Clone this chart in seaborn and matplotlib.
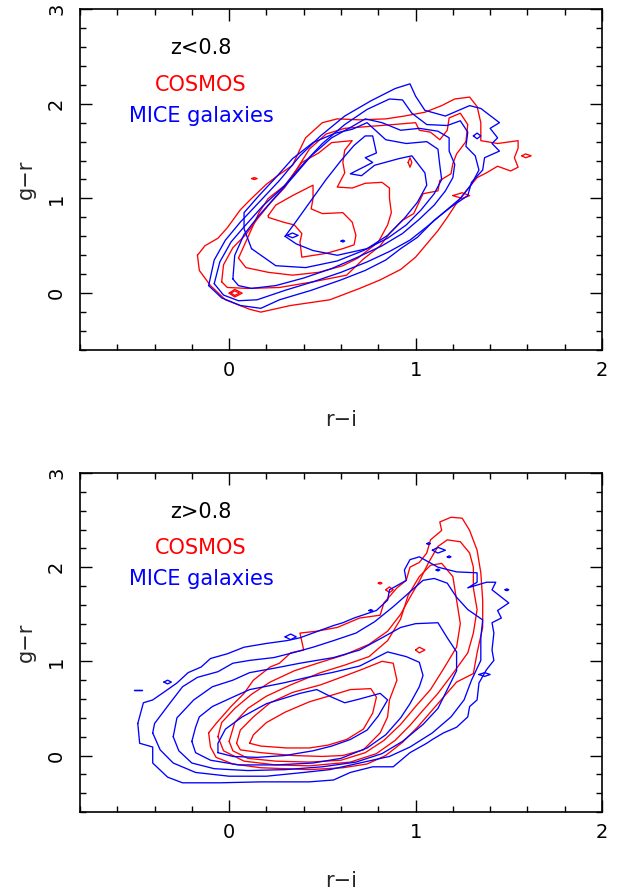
import matplotlib
matplotlib.use("Agg")
import matplotlib.pyplot as plt
from matplotlib.ticker import MultipleLocator, FixedLocator
import pandas as pd
import seaborn as sns

# ---------------------------------------------------------------
# Contour paths in the (r-i, g-r) colour plane, one list per level
# ---------------------------------------------------------------

# z < 0.8 : COSMOS
low_cosmos_1 = [(-0.17, 0.40), (-0.13, 0.50), (-0.06, 0.58), (-0.01, 0.69), (0.06, 0.88), (0.12, 1.00),
                (0.20, 1.15), (0.26, 1.24), (0.34, 1.35), (0.39, 1.56), (0.41, 1.64), (0.50, 1.80),
                (0.58, 1.84), (0.70, 1.83), (0.84, 1.84), (0.94, 1.87), (1.05, 1.91), (1.14, 1.98),
                (1.21, 2.05), (1.29, 2.07), (1.33, 1.97), (1.35, 1.80), (1.35, 1.61), (1.44, 1.58),
                (1.55, 1.61), (1.55, 1.53), (1.53, 1.43), (1.55, 1.33), (1.51, 1.29), (1.44, 1.34),
                (1.38, 1.27), (1.33, 1.22), (1.28, 1.10), (1.22, 0.95), (1.17, 0.80), (1.12, 0.66),
                (1.06, 0.52), (1.00, 0.38), (0.92, 0.25), (0.81, 0.14), (0.70, 0.05), (0.54, -0.07),
                (0.33, -0.13), (0.17, -0.20), (0.11, -0.17), (-0.02, -0.07), (-0.10, 0.08), (-0.16, 0.24)]
low_cosmos_2 = [(-0.04, 0.12), (-0.03, 0.30), (0.02, 0.48), (0.09, 0.62), (0.15, 0.78), (0.22, 0.95),
                (0.30, 1.12), (0.36, 1.30), (0.43, 1.52), (0.52, 1.68), (0.62, 1.74), (0.75, 1.76),
                (0.88, 1.78), (1.00, 1.80), (1.02, 1.72), (1.08, 1.70), (1.13, 1.62), (1.17, 1.72),
                (1.18, 1.85), (1.24, 1.90), (1.28, 1.78), (1.27, 1.60), (1.22, 1.47), (1.20, 1.37),
                (1.19, 1.26), (1.13, 1.19), (1.12, 1.08), (1.04, 1.05), (0.99, 0.84), (0.93, 0.77),
                (0.86, 0.63), (0.81, 0.50), (0.72, 0.36), (0.63, 0.19), (0.45, 0.12), (0.27, 0.06),
                (0.10, 0.05), (-0.01, 0.06)]
low_cosmos_3 = [(0.05, 0.37), (0.16, 0.85), (0.21, 1.00), (0.30, 1.14), (0.39, 1.38), (0.48, 1.48),
                (0.55, 1.59), (0.66, 1.61), (0.62, 1.51), (0.61, 1.38), (0.62, 1.27), (0.58, 1.12),
                (0.66, 1.11), (0.73, 1.16), (0.82, 1.17), (0.86, 1.11), (0.86, 1.00), (0.87, 0.85),
                (0.85, 0.72), (0.80, 0.54), (0.69, 0.37), (0.61, 0.29), (0.48, 0.22), (0.34, 0.19),
                (0.21, 0.22), (0.09, 0.27)]
low_cosmos_4 = [(0.21, 0.82), (0.25, 0.93), (0.34, 1.03), (0.41, 1.10), (0.45, 1.14), (0.45, 1.00),
                (0.44, 0.89), (0.50, 0.84), (0.61, 0.85), (0.66, 0.75), (0.68, 0.61), (0.67, 0.51),
                (0.61, 0.47), (0.52, 0.42), (0.39, 0.38), (0.38, 0.54), (0.39, 0.63), (0.35, 0.72),
                (0.29, 0.75), (0.21, 0.80)]
low_cosmos_spots = [
    [(0.00, 0.00), (0.03, 0.04), (0.07, 0.00), (0.03, -0.04)],
    [(0.01, 0.00), (0.03, 0.025), (0.055, 0.00), (0.03, -0.025)],
    [(0.12, 1.21), (0.135, 1.22), (0.15, 1.21), (0.135, 1.20)],
    [(0.96, 1.38), (0.97, 1.43), (0.98, 1.38), (0.97, 1.33)],
    [(1.57, 1.45), (1.59, 1.47), (1.62, 1.45), (1.59, 1.43)],
    [(1.20, 1.03), (1.25, 1.06), (1.29, 1.03), (1.25, 1.00)],
]

# z < 0.8 : MICE galaxies
low_mice_1 = [(-0.11, 0.08), (-0.08, 0.35), (-0.02, 0.56), (0.06, 0.75), (0.17, 0.98), (0.27, 1.19),
              (0.38, 1.45), (0.49, 1.66), (0.62, 1.87), (0.76, 2.03), (0.89, 2.16), (0.97, 2.21),
              (1.00, 2.08), (1.05, 1.93), (1.16, 1.87), (1.29, 1.98), (1.35, 1.95), (1.45, 1.80),
              (1.40, 1.74), (1.44, 1.64), (1.41, 1.58), (1.45, 1.50), (1.37, 1.43), (1.36, 1.30),
              (1.30, 1.17), (1.28, 1.03), (1.19, 0.91), (1.10, 0.77), (1.01, 0.59), (0.92, 0.47),
              (0.84, 0.35), (0.73, 0.24), (0.60, 0.14), (0.44, 0.03), (0.27, -0.07), (0.17, -0.16),
              (0.06, -0.13), (-0.04, -0.05)]
low_mice_2 = [(-0.08, 0.10), (-0.05, 0.33), (0.01, 0.54), (0.08, 0.70), (0.18, 0.92), (0.29, 1.12),
              (0.40, 1.37), (0.50, 1.58), (0.62, 1.78), (0.74, 1.94), (0.86, 2.05), (0.93, 2.04),
              (0.98, 1.90), (1.06, 1.78), (1.17, 1.77), (1.24, 1.82), (1.28, 1.70), (1.27, 1.55),
              (1.32, 1.45), (1.34, 1.30), (1.30, 1.15), (1.24, 1.00), (1.15, 0.85), (1.06, 0.70),
              (0.97, 0.56), (0.86, 0.44), (0.74, 0.33), (0.60, 0.22), (0.45, 0.12), (0.30, 0.03),
              (0.15, -0.07), (0.05, -0.08), (-0.03, -0.02)]
low_mice_3 = [(0.02, 0.15), (0.03, 0.40), (0.08, 0.62), (0.16, 0.82), (0.25, 1.02), (0.34, 1.22),
              (0.44, 1.45), (0.55, 1.64), (0.66, 1.76), (0.73, 1.84), (0.82, 1.80), (0.92, 1.72),
              (1.02, 1.74), (1.12, 1.71), (1.18, 1.64), (1.18, 1.50), (1.21, 1.36), (1.20, 1.22),
              (1.16, 1.08), (1.10, 0.93), (1.02, 0.78), (0.93, 0.63), (0.82, 0.50), (0.69, 0.38),
              (0.55, 0.26), (0.40, 0.16), (0.25, 0.08), (0.12, 0.05), (0.05, 0.08)]
low_mice_4 = [(0.12, 0.47), (0.08, 0.68), (0.08, 0.85), (0.16, 1.03), (0.25, 1.22), (0.34, 1.42),
              (0.45, 1.59), (0.57, 1.69), (0.66, 1.73), (0.74, 1.80), (0.84, 1.62), (0.95, 1.58),
              (1.06, 1.60), (1.12, 1.52), (1.13, 1.35), (1.14, 1.20), (1.10, 1.05), (1.03, 0.88),
              (0.95, 0.72), (0.85, 0.58), (0.72, 0.45), (0.58, 0.34), (0.41, 0.27), (0.25, 0.29)]
low_mice_5 = [(0.30, 0.60), (0.36, 0.76), (0.44, 0.98), (0.52, 1.20), (0.60, 1.40), (0.67, 1.56),
              (0.73, 1.66), (0.77, 1.66), (0.79, 1.48), (0.73, 1.43), (0.77, 1.38), (0.65, 1.26),
              (0.71, 1.24), (0.78, 1.35), (0.91, 1.42), (0.98, 1.45), (1.05, 1.27), (1.06, 1.14),
              (1.01, 0.96), (0.94, 0.79), (0.85, 0.61), (0.74, 0.47), (0.58, 0.40), (0.45, 0.45),
              (0.36, 0.52)]
low_mice_spots = [
    [(0.31, 0.61), (0.34, 0.635), (0.37, 0.61), (0.34, 0.585)],
    [(0.60, 0.55), (0.61, 0.56), (0.62, 0.55), (0.61, 0.54)],
    [(1.31, 1.66), (1.33, 1.69), (1.35, 1.66), (1.33, 1.63)],
]

# z > 0.8 : COSMOS
high_cosmos_1 = [(-0.11, 0.24), (-0.07, 0.34), (0.01, 0.52), (0.08, 0.66), (0.13, 0.80), (0.22, 0.94),
                 (0.27, 0.98), (0.33, 1.09), (0.40, 1.12), (0.38, 1.30), (0.47, 1.32), (0.58, 1.36),
                 (0.70, 1.46), (0.81, 1.49), (0.83, 1.62), (0.90, 1.78), (0.95, 1.86), (0.97, 2.00),
                 (1.02, 2.05), (1.06, 2.15), (1.08, 2.29), (1.14, 2.39), (1.13, 2.48), (1.19, 2.53),
                 (1.25, 2.52), (1.29, 2.39), (1.33, 2.18), (1.35, 1.94), (1.36, 1.65), (1.36, 1.36),
                 (1.33, 1.09), (1.31, 0.87), (1.22, 0.78), (1.15, 0.62), (1.08, 0.46), (1.01, 0.30),
                 (0.93, 0.14), (0.84, 0.00), (0.74, -0.09), (0.61, -0.13), (0.43, -0.15), (0.17, -0.13),
                 (0.02, -0.09), (-0.07, -0.02), (-0.10, 0.09)]
high_cosmos_2 = [(-0.06, 0.20), (-0.04, 0.35), (0.03, 0.50), (0.12, 0.65), (0.22, 0.78), (0.35, 0.90),
                 (0.49, 0.99), (0.62, 1.07), (0.75, 1.18), (0.85, 1.32), (0.92, 1.50), (0.97, 1.68),
                 (1.02, 1.85), (1.07, 2.05), (1.12, 2.22), (1.17, 2.29), (1.24, 2.27), (1.29, 2.15),
                 (1.31, 2.00), (1.31, 1.78), (1.33, 1.55), (1.31, 1.30), (1.28, 1.09), (1.20, 0.87),
                 (1.12, 0.66), (1.04, 0.48), (0.97, 0.32), (0.89, 0.16), (0.79, 0.02), (0.65, -0.07),
                 (0.43, -0.11), (0.25, -0.10), (0.08, -0.06), (-0.03, 0.05)]
high_cosmos_3 = [(0.00, 0.15), (0.03, 0.35), (0.10, 0.50), (0.20, 0.63), (0.33, 0.75), (0.49, 0.88),
                 (0.62, 0.96), (0.75, 1.05), (0.85, 1.22), (0.92, 1.45), (0.96, 1.70), (1.02, 1.90),
                 (1.08, 2.02), (1.14, 2.04), (1.20, 1.90), (1.22, 1.65), (1.24, 1.40), (1.22, 1.15),
                 (1.15, 0.92), (1.08, 0.70), (1.00, 0.52), (0.92, 0.33), (0.83, 0.16), (0.73, 0.03),
                 (0.60, -0.05), (0.43, -0.07), (0.25, -0.06), (0.10, -0.03), (0.02, 0.05)]
high_cosmos_4 = [(0.04, 0.13), (0.06, 0.27), (0.13, 0.41), (0.22, 0.56), (0.34, 0.67), (0.49, 0.75),
                 (0.60, 0.83), (0.72, 0.92), (0.82, 1.00), (0.88, 0.98), (0.90, 0.80), (0.86, 0.59),
                 (0.85, 0.41), (0.81, 0.24), (0.72, 0.06), (0.61, 0.00), (0.50, -0.01), (0.34, 0.00),
                 (0.17, 0.03), (0.06, 0.06)]
high_cosmos_5 = [(0.11, 0.13), (0.13, 0.22), (0.20, 0.35), (0.30, 0.46), (0.43, 0.57), (0.55, 0.64),
                 (0.65, 0.70), (0.76, 0.71), (0.79, 0.62), (0.77, 0.45), (0.72, 0.28), (0.63, 0.17),
                 (0.53, 0.11), (0.43, 0.08), (0.31, 0.08), (0.17, 0.10)]
high_cosmos_spots = [
    [(0.80, 1.83), (0.81, 1.84), (0.82, 1.83), (0.81, 1.82)],
    [(0.84, 1.76), (0.86, 1.79), (0.88, 1.76), (0.86, 1.73)],
    [(1.00, 1.12), (1.02, 1.15), (1.05, 1.12), (1.02, 1.09)],
]

# z > 0.8 : MICE galaxies
high_mice_1 = [(-0.49, 0.34), (-0.46, 0.56), (-0.41, 0.59), (-0.33, 0.70), (-0.28, 0.77), (-0.22, 0.88),
               (-0.15, 0.94), (-0.10, 1.03), (-0.01, 1.08), (0.08, 1.15), (0.20, 1.19), (0.31, 1.22),
               (0.38, 1.25), (0.49, 1.33), (0.56, 1.38), (0.61, 1.41), (0.67, 1.46), (0.79, 1.54),
               (0.85, 1.65), (0.86, 1.76), (0.95, 1.86), (0.94, 1.97), (0.97, 2.08), (1.02, 2.11),
               (1.12, 2.00), (1.22, 1.95), (1.33, 1.94), (1.33, 1.84), (1.28, 1.78), (1.38, 1.84),
               (1.43, 1.84), (1.41, 1.76), (1.50, 1.62), (1.44, 1.54), (1.46, 1.46), (1.41, 1.41),
               (1.42, 1.30), (1.41, 1.12), (1.42, 1.01), (1.38, 0.91), (1.34, 0.77), (1.33, 0.59),
               (1.29, 0.52), (1.28, 0.41), (1.22, 0.30), (1.15, 0.24), (1.09, 0.17), (1.06, 0.13),
               (0.97, 0.03), (0.88, -0.12), (0.77, -0.12), (0.65, -0.18), (0.56, -0.26), (0.43, -0.28),
               (0.17, -0.28), (-0.05, -0.29), (-0.25, -0.29), (-0.33, -0.23), (-0.41, -0.08),
               (-0.41, 0.09), (-0.48, 0.13)]
high_mice_2 = [(-0.41, 0.24), (-0.40, 0.34), (-0.32, 0.55), (-0.25, 0.73), (-0.17, 0.83), (-0.06, 0.89),
               (0.02, 0.98), (0.11, 1.01), (0.24, 1.04), (0.34, 1.09), (0.45, 1.15), (0.56, 1.22),
               (0.68, 1.30), (0.78, 1.42), (0.88, 1.58), (0.96, 1.72), (1.04, 1.86), (1.10, 1.88),
               (1.17, 1.83), (1.22, 1.68), (1.28, 1.55), (1.36, 1.44), (1.35, 1.25), (1.35, 1.01),
               (1.30, 0.80), (1.26, 0.59), (1.19, 0.41), (1.09, 0.24), (0.97, 0.09), (0.86, -0.01),
               (0.70, -0.08), (0.54, -0.15), (0.40, -0.18), (0.20, -0.22), (0.00, -0.22),
               (-0.18, -0.18), (-0.30, -0.08), (-0.37, 0.06)]
high_mice_3 = [(-0.30, 0.20), (-0.28, 0.40), (-0.19, 0.59), (-0.09, 0.73), (0.02, 0.80), (0.11, 0.88),
               (0.25, 0.93), (0.38, 0.98), (0.56, 1.04), (0.70, 1.12), (0.82, 1.25), (0.92, 1.36),
               (1.00, 1.40), (1.12, 1.41), (1.17, 1.25), (1.22, 1.10), (1.22, 0.90), (1.17, 0.70),
               (1.12, 0.50), (1.04, 0.33), (0.93, 0.15), (0.82, 0.02), (0.68, -0.07), (0.50, -0.12),
               (0.30, -0.15), (0.10, -0.16), (-0.08, -0.14), (-0.20, -0.08), (-0.27, 0.05)]
high_mice_4 = [(-0.20, 0.15), (-0.18, 0.30), (-0.16, 0.41), (-0.09, 0.52), (0.02, 0.62), (0.11, 0.70),
               (0.29, 0.77), (0.42, 0.83), (0.55, 0.88), (0.70, 0.95), (0.85, 1.10), (0.95, 1.05),
               (1.02, 0.99), (1.04, 0.85), (1.02, 0.73), (0.97, 0.55), (0.92, 0.40), (0.84, 0.22),
               (0.74, 0.08), (0.60, -0.03), (0.45, -0.08), (0.25, -0.10), (0.05, -0.10),
               (-0.10, -0.05), (-0.18, 0.03)]
high_mice_5 = [(-0.06, 0.03), (-0.06, 0.13), (-0.02, 0.28), (0.07, 0.41), (0.20, 0.55), (0.38, 0.66),
               (0.47, 0.70), (0.55, 0.62), (0.62, 0.56), (0.70, 0.60), (0.81, 0.66), (0.85, 0.59),
               (0.80, 0.42), (0.74, 0.27), (0.65, 0.17), (0.55, 0.10), (0.45, 0.05), (0.30, 0.00),
               (0.15, -0.02), (0.02, -0.01)]
high_mice_spots = [
    [(-0.51, 0.70), (-0.47, 0.70)],
    [(-0.35, 0.78), (-0.33, 0.80), (-0.31, 0.78), (-0.33, 0.76)],
    [(0.30, 1.26), (0.33, 1.29), (0.36, 1.26), (0.33, 1.23)],
    [(0.75, 1.54), (0.76, 1.55), (0.77, 1.54), (0.76, 1.53)],
    [(1.06, 2.25), (1.07, 2.26), (1.08, 2.25), (1.07, 2.24)],
    [(1.09, 2.18), (1.12, 2.21), (1.16, 2.18), (1.12, 2.15)],
    [(1.17, 2.11), (1.18, 2.12), (1.19, 2.11), (1.18, 2.10)],
    [(1.11, 1.97), (1.12, 1.98), (1.13, 1.97), (1.12, 1.96)],
    [(1.48, 1.76), (1.49, 1.77), (1.50, 1.76), (1.49, 1.75)],
    [(1.34, 0.86), (1.37, 0.88), (1.40, 0.86), (1.37, 0.84)],
]

# panel captions
panel_titles = ["z<0.8", "z>0.8"]
sample_names = ["COSMOS", "MICE galaxies"]
sample_colors = ["#ff0000", "#0000ff"]

x_major = [0, 1, 2]
y_major = [0, 1, 2, 3]
x_range = (-0.8, 2.0)
y_range = (-0.6, 3.0)


def rings_frame(rings):
    rows = []
    for k, ring in enumerate(rings):
        for x, y in list(ring) + [ring[0]]:
            rows.append((k, x, y))
    return pd.DataFrame(rows, columns=["ring", "r_i", "g_r"])


def draw_rings(ax, rings, color):
    sns.lineplot(data=rings_frame(rings), x="r_i", y="g_r", units="ring",
                 estimator=None, sort=False, color=color, lw=0.95,
                 ax=ax, legend=False)


def style_axes(ax, title):
    ax.set_xlim(*x_range)
    ax.set_ylim(*y_range)
    ax.xaxis.set_major_locator(FixedLocator(x_major))
    ax.yaxis.set_major_locator(FixedLocator(y_major))
    ax.xaxis.set_minor_locator(MultipleLocator(0.2))
    ax.yaxis.set_minor_locator(MultipleLocator(0.2))
    ax.tick_params(which="both", direction="in", top=True, right=True,
                   colors="black", width=1.0)
    ax.tick_params(which="major", length=8.5)
    ax.tick_params(which="minor", length=4.3)
    ax.tick_params(axis="x", labelsize=14, pad=8)
    ax.tick_params(axis="y", labelsize=14, pad=10, labelrotation=90)
    for lab in ax.get_yticklabels():
        lab.set_va("center")
    for sp in ax.spines.values():
        sp.set_linewidth(1.2)
        sp.set_color("black")
    ax.set_xlabel("r\u2212i", fontsize=15)
    ax.set_ylabel("g\u2212r", fontsize=15)
    ax.xaxis.set_label_coords(0.5, -0.175)
    ax.yaxis.set_label_coords(-0.085, 0.5)
    ax.text(-0.15, 2.59, title, ha="center", va="center", fontsize=15, color="black")
    ax.text(-0.15, 2.20, sample_names[0], ha="center", va="center", fontsize=15,
            color=sample_colors[0])
    ax.text(-0.15, 1.87, sample_names[1], ha="center", va="center", fontsize=15,
            color=sample_colors[1])


sns.set_style("ticks")
plt.rcParams["font.family"] = ["DejaVu Sans"]

fig = plt.figure(figsize=(6.21, 8.90), dpi=100)
ax_low = fig.add_axes([80 / 621, (890 - 350) / 890, 522 / 621, 341 / 890])
ax_high = fig.add_axes([80 / 621, (890 - 812) / 890, 522 / 621, 339 / 890])

draw_rings(ax_low, [low_cosmos_1, low_cosmos_2, low_cosmos_3, low_cosmos_4] + low_cosmos_spots,
           sample_colors[0])
draw_rings(ax_low, [low_mice_1, low_mice_2, low_mice_3, low_mice_4, low_mice_5] + low_mice_spots,
           sample_colors[1])
style_axes(ax_low, panel_titles[0])

draw_rings(ax_high, [high_cosmos_1, high_cosmos_2, high_cosmos_3, high_cosmos_4, high_cosmos_5]
           + high_cosmos_spots, sample_colors[0])
draw_rings(ax_high, [high_mice_1, high_mice_2, high_mice_3, high_mice_4, high_mice_5]
           + high_mice_spots, sample_colors[1])
style_axes(ax_high, panel_titles[1])

fig.savefig("out.png", dpi=100, facecolor="white")
